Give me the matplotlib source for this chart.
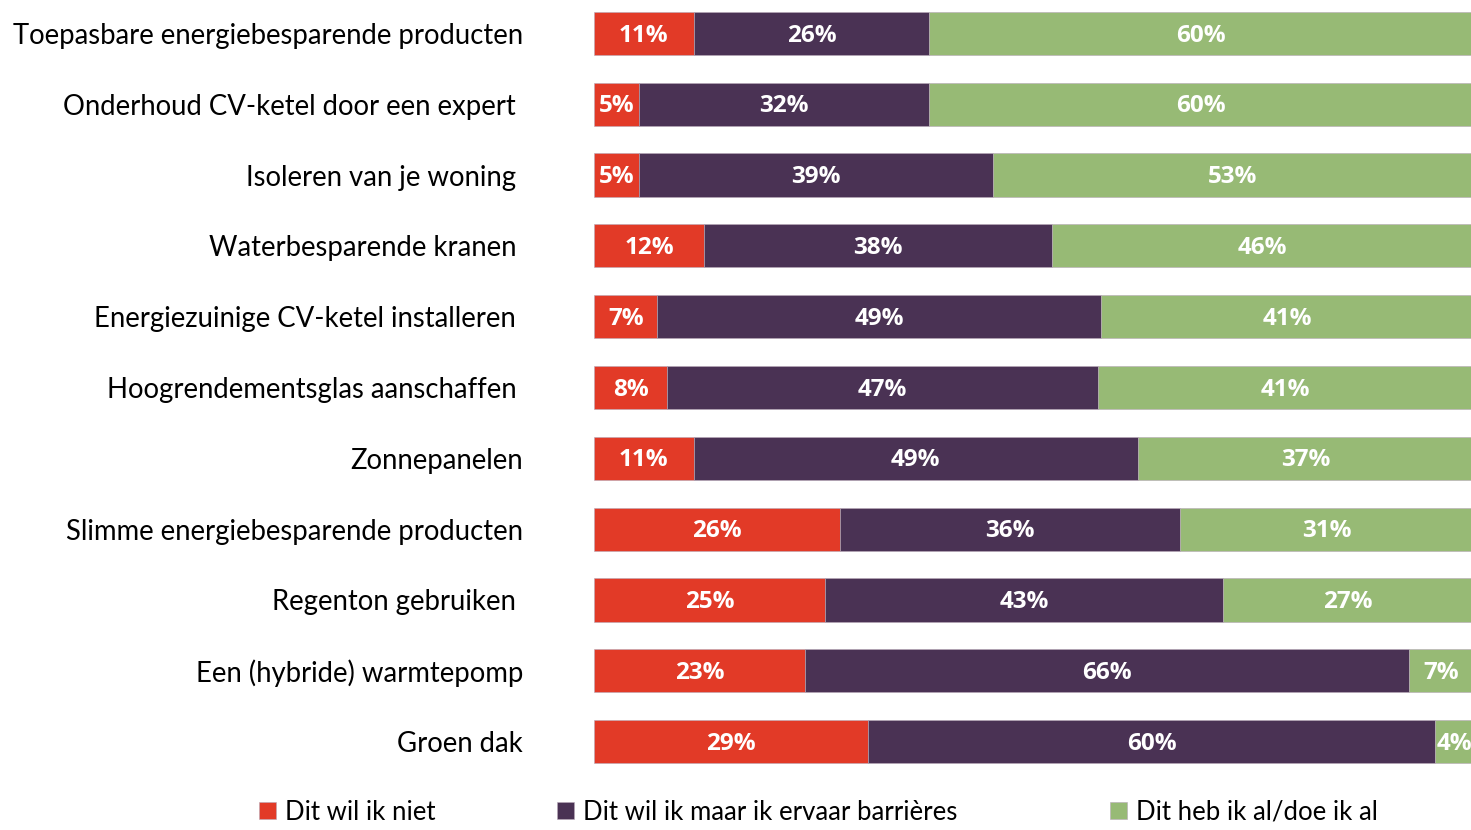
import numpy as np
import matplotlib.pyplot as plt

categories = [
    "Toepasbare energiebesparende producten",
    "Onderhoud CV-ketel door een expert ",
    "Isoleren van je woning ",
    "Waterbesparende kranen ",
    "Energiezuinige CV-ketel installeren ",
    "Hoogrendementsglas aanschaffen ",
    "Zonnepanelen",
    "Slimme energiebesparende producten",
    "Regenton gebruiken ",
    "Een (hybride) warmtepomp",
    "Groen dak",
]
niet = [11, 5, 5, 12, 7, 8, 11, 26, 25, 23, 29]
barrieres = [26, 32, 39, 38, 49, 47, 49, 36, 43, 66, 60]
al = [60, 60, 53, 46, 41, 41, 37, 31, 27, 7, 4]

series_names = ["Dit wil ik niet", "Dit wil ik maar ik ervaar barrières", "Dit heb ik al/doe ik al"]
colors = ["#E23A27", "#4A3254", "#97BA75"]

plt.rcParams['font.family'] = ['Lato', 'DejaVu Sans']

data = np.array([niet, barrieres, al], dtype=float)
shares = data / data.sum(axis=0) * 100  # bars fill the full width

fig = plt.figure(figsize=(14.71, 8.30), dpi=100)
ax = fig.add_axes([594 / 1471, 53 / 830, 879 / 1471, 779 / 830])

y = np.arange(len(categories))
left = np.zeros(len(categories))
bars = []
for vals, pct, col in zip(shares, data, colors):
    b = ax.barh(y, vals, left=left, height=0.61, color=col, edgecolor='#b8a9b8', linewidth=0.4)
    bars.append(b)
    for yi, l, v, p in zip(y, left, vals, pct):
        ax.text(l + v / 2, yi + 0.03, f"{int(p)}%", ha='center', va='center',
                color='white', fontsize=17.5, fontweight='bold',
                family=['Open Sans', 'DejaVu Sans'])
    left += vals

ax.set_xlim(0, 100)
ax.set_ylim(len(categories) - 0.5, -0.5)
ax.set_yticks(y)
ax.set_yticklabels(categories, fontsize=19.8)
ax.tick_params(axis='y', length=0, pad=51)
ax.set_xticks([])
for s in ax.spines.values():
    s.set_visible(False)

legend_x = [249 / 1471, 547 / 1471, 1100 / 1471]
for b, name, lx in zip(bars, series_names, legend_x):
    fig.legend(handles=[b], labels=[name], loc='lower left', bbox_to_anchor=(lx, -0.006),
               frameon=False, fontsize=18.5, handlelength=0.65, handleheight=0.65,
               handletextpad=0.35, borderaxespad=0)

fig.savefig("out.png", dpi=100)
